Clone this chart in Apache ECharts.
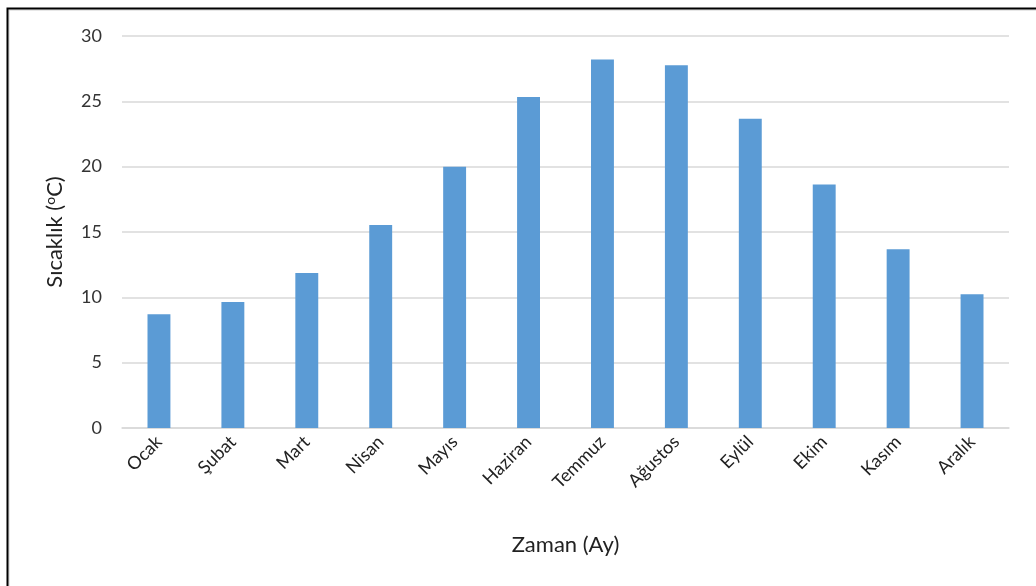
<!DOCTYPE html>
<html>
<head>
<meta charset="utf-8">
<script src="https://cdn.jsdelivr.net/npm/echarts@6/dist/echarts.min.js"></script>
<style>
  html, body { margin: 0; padding: 0; background: #fff; }
  #main { width: 1036px; height: 586px; }
</style>
</head>
<body>
<div id="main"></div>
<script>
var aylar = ['Ocak', 'Şubat', 'Mart', 'Nisan', 'Mayıs', 'Haziran', 'Temmuz', 'Ağustos', 'Eylül', 'Ekim', 'Kasım', 'Aralık'];
var sicaklik = [8.7, 9.65, 11.87, 15.53, 20.0, 25.33, 28.2, 27.77, 23.66, 18.64, 13.68, 10.24];
var yTicks = [0, 5, 10, 15, 20, 25, 30];

var myChart = echarts.init(document.getElementById('main'));

var option = {
    animation: false,
    textStyle: { fontFamily: 'Lato' },
    graphic: [
        // kirpilmis cerceve (sadece ust ve sol kenar gorunuyor)
        { type: 'rect', shape: { x: 9, y: 10, width: 1100, height: 700 },
          style: { fill: 'none', stroke: '#d0d0d0', lineWidth: 1 } },
        { type: 'rect', shape: { x: 7.5, y: 8.5, width: 1100, height: 700 },
          style: { fill: 'none', stroke: '#000', lineWidth: 2 } }
    ],
    grid: { left: 122, right: 27, top: 36, bottom: 158 },
    xAxis: {
        type: 'category',
        data: aylar,
        name: 'Zaman (Ay)',
        nameLocation: 'middle',
        nameGap: 106,
        nameTextStyle: { fontSize: 22, color: '#222' },
        axisLine: { lineStyle: { color: '#d9d9d9', width: 1.5 } },
        axisTick: { show: false },
        axisLabel: { rotate: 45, fontSize: 18, color: '#222', margin: 11, interval: 0 }
    },
    yAxis: {
        type: 'value',
        min: 0,
        max: 30,
        interval: 5,
        name: 'Sıcaklık ({s|o}C)',
        nameLocation: 'middle',
        nameGap: 56,
        nameTextStyle: {
            fontSize: 22, color: '#222',
            rich: { s: { fontSize: 14, verticalAlign: 'top', padding: [0, 0, 9, 0], color: '#222' } }
        },
        axisLabel: {
            fontSize: 18, color: '#333', margin: 20,
            formatter: function (v) { return yTicks.indexOf(v) >= 0 ? String(v) : ''; }
        },
        axisLine: { show: false },
        axisTick: { show: false },
        splitLine: { lineStyle: { color: '#d9d9d9', width: 1.5 } }
    },
    series: [{
        name: 'Sıcaklık',
        type: 'bar',
        data: sicaklik,
        barWidth: '31%',
        itemStyle: { color: '#5b9bd5' }
    }]
};
myChart.setOption(option);
</script>
</body>
</html>
